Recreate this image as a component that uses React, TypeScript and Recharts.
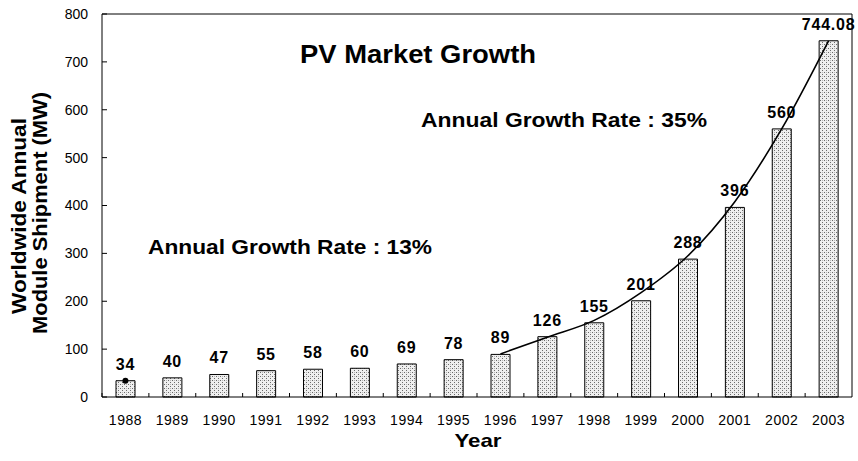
import React from 'react';
import { ComposedChart, Bar, Line, XAxis, YAxis, ReferenceLine, LabelList } from 'recharts';

const years = ['1988', '1989', '1990', '1991', '1992', '1993', '1994', '1995', '1996', '1997', '1998', '1999', '2000', '2001', '2002', '2003'];
const shipments = [34, 40, 47, 55, 58, 60, 69, 78, 89, 126, 155, 201, 288, 396, 560, 744.08];
const trend35: (number | null)[] = [null, null, null, null, null, null, null, null, 90, 125, 160, 218, 295, 408, 560, 744];
const marker13: (number | null)[] = [34, null, null, null, null, null, null, null, null, null, null, null, null, null, null, null];
const yTicks = [0, 100, 200, 300, 400, 500, 600, 700, 800];

const data = years.map((y, i) => ({ year: y, value: shipments[i], trend: trend35[i], marker: marker13[i] }));

const FONT = '"Liberation Sans", Arial, Helvetica, sans-serif';
const W = 858;
const H = 461;
const Y_AXIS_W = 102;
const RIGHT_W = 6;
const PLOT_W = W - Y_AXIS_W - RIGHT_W;
const HALF_BAND = PLOT_W / years.length / 2;

const XTick = (props: any) => {
  const { x, y, payload } = props;
  return (
    <g>
      <line x1={x - HALF_BAND} x2={x - HALF_BAND} y1={y} y2={y - 4} stroke="#000" strokeWidth={1} />
      <text x={x} y={y + 28} textAnchor="middle" fontSize={14} letterSpacing={0.5} fontFamily={FONT} fill="#000">
        {payload.value}
      </text>
    </g>
  );
};

export default function App() {
  return (
    <div style={{ position: 'absolute', left: 0, top: 0, width: W, height: H }}>
      <ComposedChart
        width={W}
        height={H}
        data={data}
        margin={{ top: 14, right: 0, bottom: 0, left: 0 }}
        style={{ fontFamily: FONT }}
      >
        <defs>
          <pattern id="stipple" width="4" height="4" patternUnits="userSpaceOnUse">
            <rect width="4" height="4" fill="#efefef" />
            <rect x="0" y="0" width="1" height="1" fill="#6a6a6a" />
            <rect x="2" y="2" width="1" height="1" fill="#6a6a6a" />
            <rect x="2" y="0" width="1" height="1" fill="#b8b8b8" />
          </pattern>
        </defs>
        <XAxis
          dataKey="year"
          height={64}
          tickSize={0}
          tickMargin={0}
          tickLine={false}
          axisLine={{ stroke: '#000', strokeWidth: 1 }}
          tick={<XTick />}
          interval={0}
        />
        <YAxis
          type="number"
          domain={[0, 800]}
          ticks={yTicks}
          width={Y_AXIS_W}
          tickSize={-5}
          tickMargin={19}
          axisLine={{ stroke: '#000', strokeWidth: 1 }}
          tickLine={{ stroke: '#000', strokeWidth: 1 }}
          tick={{ fontSize: 14, fill: '#000', fontFamily: FONT }}
          interval={0}
        />
        <YAxis
          yAxisId="right"
          orientation="right"
          type="number"
          domain={[0, 800]}
          width={RIGHT_W}
          tick={false}
          tickLine={false}
          axisLine={{ stroke: '#000', strokeWidth: 1 }}
        />
        <ReferenceLine y={800} stroke="#000" strokeWidth={1} />
        <Bar dataKey="value" barSize={19} fill="url(#stipple)" stroke="#000" strokeWidth={1} isAnimationActive={false}>
          <LabelList
            dataKey="value"
            position="top"
            offset={11}
            style={{ fontSize: 16, fontWeight: 700, fill: '#000', letterSpacing: 0.8, fontFamily: FONT }}
          />
        </Bar>
        <Line
          dataKey="trend"
          type="monotone"
          stroke="#000"
          strokeWidth={1.6}
          dot={false}
          activeDot={false}
          isAnimationActive={false}
        />
        <Line
          dataKey="marker"
          stroke="none"
          dot={{ r: 3, fill: '#000', stroke: '#000', strokeWidth: 0 }}
          activeDot={false}
          isAnimationActive={false}
        />
        <text x={418} y={63} textAnchor="middle" fontSize={25} fontWeight={700} fontFamily={FONT} fill="#000" textLength={236} lengthAdjust="spacingAndGlyphs">
          PV Market Growth
        </text>
        <text x={421} y={127} fontSize={20} fontWeight={700} fontFamily={FONT} fill="#000" textLength={286} lengthAdjust="spacingAndGlyphs">
          Annual Growth Rate : 35%
        </text>
        <text x={148} y={254} fontSize={20} fontWeight={700} fontFamily={FONT} fill="#000" textLength={284} lengthAdjust="spacingAndGlyphs">
          Annual Growth Rate : 13%
        </text>
        <text x={478} y={447} textAnchor="middle" fontSize={19} fontWeight={700} fontFamily={FONT} fill="#000" textLength={47} lengthAdjust="spacingAndGlyphs">
          Year
        </text>
        <text transform="translate(26,216) rotate(-90)" textAnchor="middle" fontSize={20} fontWeight={700} fontFamily={FONT} fill="#000" textLength={196} lengthAdjust="spacingAndGlyphs">
          Worldwide Annual
        </text>
        <text transform="translate(47,213) rotate(-90)" textAnchor="middle" fontSize={20} fontWeight={700} fontFamily={FONT} fill="#000" textLength={242} lengthAdjust="spacingAndGlyphs">
          Module Shipment (MW)
        </text>
      </ComposedChart>
    </div>
  );
}
